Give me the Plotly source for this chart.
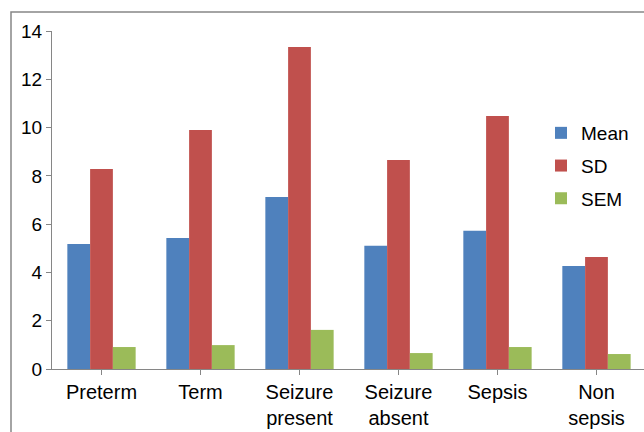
import plotly.graph_objects as go

categories = ["Preterm", "Term", "Seizure<br>present", "Seizure<br>absent", "Sepsis", "Non<br>sepsis"]
mean_vals = [5.18, 5.43, 7.12, 5.10, 5.73, 4.27]
sd_vals = [8.28, 9.90, 13.34, 8.66, 10.48, 4.64]
sem_vals = [0.91, 0.99, 1.62, 0.66, 0.91, 0.62]

series = [
    ("Mean", mean_vals, "#4F81BD"),
    ("SD", sd_vals, "#C0504D"),
    ("SEM", sem_vals, "#9BBB59"),
]

font_family = "Arial, Liberation Sans, sans-serif"
axis_grey = "#868686"

fig = go.Figure()
for i, (name, vals, color) in enumerate(series):
    fig.add_trace(go.Bar(
        x=list(range(len(categories))), y=vals, name=name,
        marker=dict(color=color, line=dict(width=0)),
        legendgroup=name,
    ))

fig.update_layout(
    width=644, height=432,
    margin=dict(l=52, r=0, t=31, b=63),
    paper_bgcolor="white", plot_bgcolor="white",
    barmode="group", bargap=0.31, bargroupgap=0,
    font=dict(family=font_family, size=19, color="black"),
    showlegend=True,
    legend=dict(
        x=(541 - 52) / 592, xanchor="left",
        y=(369 - 114) / 338, yanchor="top",
        bgcolor="rgba(0,0,0,0)", borderwidth=0,
        font=dict(size=19), itemwidth=30,
        traceorder="grouped", tracegroupgap=5,
    ),
    xaxis=dict(
        range=[-0.5, 5.48],
        tickmode="array", tickvals=list(range(len(categories))), ticktext=categories,
        tickfont=dict(size=20),
        tickson="boundaries", ticks="outside", ticklen=5, tickcolor=axis_grey,
        showline=True, linecolor=axis_grey, linewidth=1.3,
        showgrid=False, zeroline=False,
    ),
    yaxis=dict(
        range=[0, 14], dtick=2, tick0=0,
        ticks="outside", ticklen=5, tickcolor=axis_grey,
        showline=True, linecolor=axis_grey, linewidth=1.3,
        showgrid=False, zeroline=False,
    ),
    shapes=[
        # outer frame around the chart area
        dict(type="rect", xref="paper", yref="paper",
             x0=(11 - 52) / 592, x1=1.2,
             y0=-0.3, y1=(369 - 12) / 338,
             line=dict(color=axis_grey, width=1.5), fillcolor="rgba(0,0,0,0)",
             layer="below"),
    ],
)

fig.write_html("out.html")
